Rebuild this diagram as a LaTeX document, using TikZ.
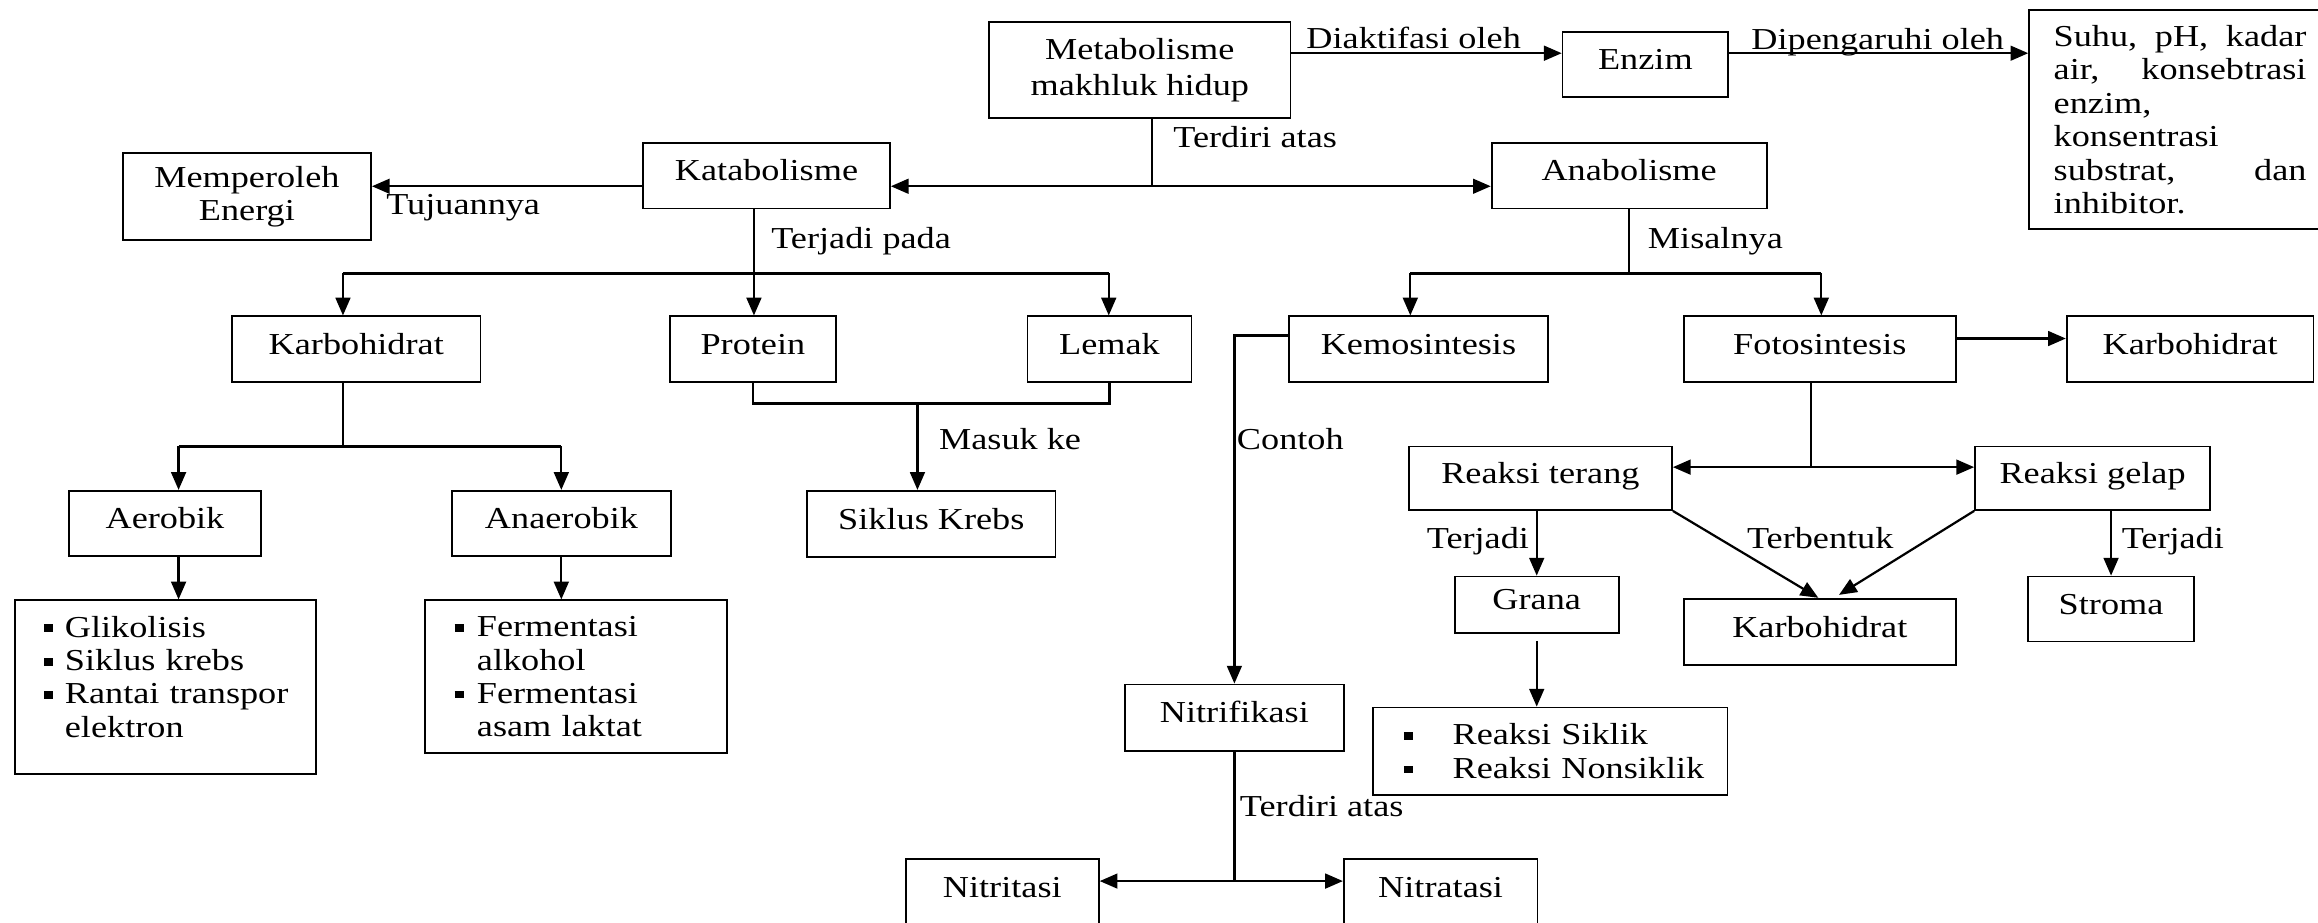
\documentclass[tikz,border=0pt]{standalone}
\usepackage{fontspec}
\setmainfont{Liberation Serif}[FakeStretch=1.19]
\usetikzlibrary{arrows.meta}

\newcommand{\titik}{\rule[1.7pt]{3pt}{2.6pt}}
\newcommand{\butir}[1][7pt]{\makebox[#1][l]{\titik}}

\begin{document}
\begin{tikzpicture}[x=0.5pt, y=-0.5pt, line width=0.75pt,
  font=\fontsize{10.3pt}{11.3pt}\selectfont,
  kotak/.style={draw, line width=0.6pt, inner sep=0pt, text height=7pt, text depth=3.6pt},
  blok/.style={draw, line width=0.6pt, inner sep=0pt, align=center},
  daftar/.style={draw, line width=0.6pt, anchor=north west, align=left, inner ysep=0pt},
  panah/.style={-{Triangle[length=6pt,width=5pt]}},
  ket/.style={anchor=base west, inner sep=0pt}]
        \useasboundingbox (0,0) rectangle (1568,624);

        \node[blok, minimum width=102pt, minimum height=32.5pt] (meta) at (771,47.5)
          {Metabolisme\\[0.8pt] makhluk hidup};
        \node[kotak, minimum width=56pt, minimum height=22pt] (enzim) at (1113,43.4) {Enzim};
        \node[daftar, text width=85.5pt, inner xsep=8.3pt, minimum height=74pt] (suhu) at (1372,6.3)
          {Suhu,\hfill pH,\hfill kadar\\ air,\hfill konsebtrasi\\ enzim,\\ konsentrasi\\ substrat,\hfill dan\\ inhibitor.};

        \node[kotak, minimum width=83.5pt, minimum height=22pt] (kat) at (518.5,119) {Katabolisme};
        \node[kotak, minimum width=93pt, minimum height=22pt] (ana) at (1102,119) {Anabolisme};
        \node[blok, minimum width=84pt, minimum height=29.35pt] (energi) at (167,133)
          {Memperoleh\\ Energi};

        \node[kotak, minimum width=84pt, minimum height=22.3pt] (karbo) at (241,236.3) {Karbohidrat};
        \node[kotak, minimum width=56.3pt, minimum height=22.3pt] (protein) at (509.3,236.3) {Protein};
        \node[kotak, minimum width=55.5pt, minimum height=22.3pt] (lemak) at (750.5,236.3) {Lemak};
        \node[kotak, minimum width=87.5pt, minimum height=22.3pt] (kemo) at (959.5,236.3) {Kemosintesis};
        \node[kotak, minimum width=92pt, minimum height=22.3pt] (foto) at (1231,236.3) {Fotosintesis};
        \node[kotak, minimum width=83.5pt, minimum height=22.3pt] (karbo2) at (1481.5,236.3) {Karbohidrat};

        \node[kotak, minimum width=84pt, minimum height=22.5pt] (krebs) at (630,354.5) {Siklus Krebs};
        \node[kotak, minimum width=65pt, minimum height=22pt] (aerob) at (111.6,354) {Aerobik};
        \node[kotak, minimum width=74.25pt, minimum height=22pt] (anaerob) at (379.8,354) {Anaerobik};

        \node[daftar, text width=82pt, inner xsep=10pt, minimum height=58.75pt] (listaero) at (9.3,405.5)
          {\mbox{\butir Glikolisis}\\ \mbox{\butir Siklus krebs}\\ \mbox{\butir Rantai transpor}\\ \mbox{\hspace*{7pt}elektron}\par\kern7pt};
        \node[daftar, text width=82pt, inner xsep=10pt, minimum height=51.75pt] (listanaero) at (287,405.5)
          {\mbox{\butir[7.5pt]Fermentasi}\\ \mbox{\hspace*{7.5pt}alkohol}\\ \mbox{\butir[7.5pt]Fermentasi}\\ \mbox{\hspace*{7.5pt}asam laktat}};

        \node[kotak, minimum width=89pt, minimum height=21.5pt] (rterang) at (1042,323.5) {Reaksi terang};
        \node[kotak, minimum width=79.5pt, minimum height=21.5pt] (rgelap) at (1415.5,323.5) {Reaksi gelap};
        \node[kotak, minimum width=55.5pt, minimum height=19pt] (grana) at (1039.5,409) {Grana};
        \node[kotak, minimum width=92pt, minimum height=22.5pt] (karbo3) at (1231,427.5) {Karbohidrat};
        \node[kotak, minimum width=56pt, minimum height=22pt] (stroma) at (1428,412) {Stroma};
        \node[daftar, text width=99pt, inner xsep=10.5pt, minimum height=29.5pt] (listreaksi) at (928,478)
          {\mbox{\butir[16.5pt]Reaksi Siklik}\\ \mbox{\butir[16.5pt]Reaksi Nonsiklik}};

        \node[kotak, minimum width=74pt, minimum height=22.5pt] (nitri) at (835,485.5) {Nitrifikasi};
        \node[kotak, minimum width=65.3pt, minimum height=22.5pt] (nitrit) at (678,603.5) {Nitritasi};
        \node[kotak, minimum width=65.5pt, minimum height=22.5pt] (nitrat) at (974.5,603.5) {Nitratasi};

        \coordinate (atas) at (0,36);
        \draw[panah] (meta.east |- atas) -- (enzim.west |- atas);
        \draw[panah] (enzim.east |- atas) -- (suhu.west |- atas);
        \node[ket] (l1) at (883,33) {Diaktifasi oleh};
        \node[ket] (l2) at (1184,33.4) {Dipengaruhi oleh};

        \coordinate (pusat) at (779.4,126);
        \draw (meta.south -| pusat) -- (pusat);
        \draw[panah] (pusat) -- (kat.east |- pusat);
        \draw[panah] (pusat) -- (ana.west |- pusat);
        \draw[panah] (kat.west |- pusat) -- (energi.east |- pusat);
        \node[ket] (l3) at (793,99.5) {Terdiri atas};
        \node[ket] (l4) at (260.6,145) {Tujuannya};

        \coordinate (k1) at (510,185);
        \coordinate (k1a) at (232,185);
        \coordinate (k1c) at (750,185);
        \draw (kat.south -| k1) -- (k1);
        \draw (k1a) -- (k1c);
        \draw[panah] (k1a) -- (k1a |- karbo.north);
        \draw[panah] (k1) -- (k1 |- protein.north);
        \draw[panah] (k1c) -- (k1c |- lemak.north);
        \node[ket] (l5) at (521,168) {Terjadi pada};

        \coordinate (gabung) at (620.6,273);
        \draw (protein.south) -- (protein.south |- gabung) -- (lemak.south |- gabung) -- (lemak.south);
        \draw[panah] (gabung) -- (gabung |- krebs.north);
        \node[ket] (l6) at (634.5,304) {Masuk ke};

        \coordinate (kb) at (232,302);
        \coordinate (kba) at (120.8,302);
        \coordinate (kbb) at (379.7,302);
        \draw (karbo.south -| kb) -- (kb);
        \draw (kba) -- (kbb);
        \draw[panah] (kba) -- (kba |- aerob.north);
        \draw[panah] (kbb) -- (kbb |- anaerob.north);
        \draw[panah] (aerob.south -| kba) -- (kba |- listaero.north);
        \draw[panah] (anaerob.south -| kbb) -- (kbb |- listanaero.north);

        \coordinate (a1) at (1101.8,185);
        \coordinate (a1a) at (954,185);
        \coordinate (a1b) at (1232,185);
        \draw (ana.south -| a1) -- (a1);
        \draw (a1a) -- (a1b);
        \draw[panah] (a1a) -- (a1a |- kemo.north);
        \draw[panah] (a1b) -- (a1b |- foto.north);
        \node[ket] (l7) at (1114,168) {Misalnya};

        \coordinate (kiri) at (835,227);
        \draw[panah] (kemo.west |- kiri) -- (kiri) -- (kiri |- nitri.north);
        \node[ket] (l8) at (836,304) {Contoh};

        \coordinate (kanan) at (0,229);
        \draw[panah] (foto.east |- kanan) -- (karbo2.west |- kanan);

        \coordinate (f1) at (1225,316);
        \draw (foto.south -| f1) -- (f1);
        \draw[panah] (f1) -- (rterang.east |- f1);
        \draw[panah] (f1) -- (rgelap.west |- f1);

        \draw[panah] (rterang.south -| grana.north) -- (grana.north);
        \draw[panah] (rterang.south east) -- ([xshift=-0.5pt]karbo3.north);
        \draw[panah] (rgelap.south west) -- ([xshift=6.5pt,yshift=1pt]karbo3.north);
        \draw[panah] (rgelap.south -| stroma.north) -- (stroma.north);
        \draw[panah] ([yshift=-2.5pt]grana.south) -- (grana.south |- listreaksi.north);
        \node[ket, anchor=base east] (l9) at (1035,371) {Terjadi};
        \node[ket] (l10) at (1181,371) {Terbentuk};
        \node[ket] (l11) at (1434.5,371) {Terjadi};

        \coordinate (n1) at (835,596);
        \draw (nitri.south) -- (n1);
        \draw[panah] (n1) -- (nitrit.east |- n1);
        \draw[panah] (n1) -- (nitrat.west |- n1);
        \node[ket] (l12) at (838,552.6) {Terdiri atas};
      \end{tikzpicture}
\end{document}
